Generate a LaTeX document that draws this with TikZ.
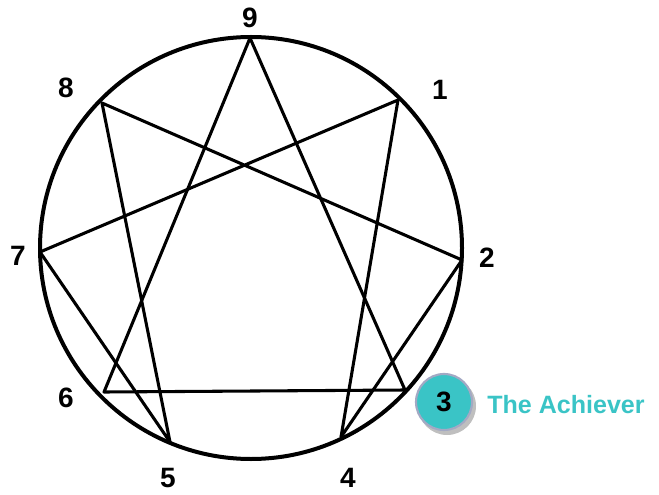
\documentclass[tikz,border=0pt]{standalone}
\usepackage{fontspec}
\setmainfont{Liberation Sans}
\usepackage{xcolor}
\usetikzlibrary{positioning}
\definecolor{achteal}{HTML}{3AC4C6}
\definecolor{ringgrey}{HTML}{A3A9C4}

\begin{document}
\begin{tikzpicture}[x=0.75pt,y=-0.75pt,
  num/.style={font=\fontsize{21}{21}\selectfont\bfseries,text=black,inner sep=0pt},
  ln/.style={line width=2.3pt,line cap=round,line join=round}
]
\useasboundingbox (0,0) rectangle (659,495);
% outer ring
\draw[line width=3pt] (251,248) circle[radius=211];
% points on the ring
\coordinate (p9) at (250,38);
\coordinate (p1) at (398,100);
\coordinate (p2) at (462,260);
\coordinate (p3) at (405,390);
\coordinate (p4) at (341,437);
\coordinate (p5) at (170,442);
\coordinate (p6) at (104,392);
\coordinate (p7) at (40,252);
\coordinate (p8) at (102,103);
% triangle
\draw[ln] (p9) -- (p3) -- (p6) -- cycle;
% hexad
\draw[ln] (p1) -- (p4) -- (p2) -- (p8) -- (p5) -- (p7) -- cycle;
% labels
\node[num] (n9) at (250,18) {9};
\node[num] (n1) at (440,90) {1};
\node[num] (n2) at (487,258) {2};
\node[num] (n4) at (348,478) {4};
\node[num] (n5) at (168,478) {5};
\node[num] (n6) at (66,398) {6};
\node[num] (n7) at (18,256) {7};
\node[num] (n8) at (66,88) {8};
% highlighted type
\fill[black!25] (447,406) circle[radius=29];
\filldraw[fill=achteal,draw=ringgrey,line width=1.6pt] (444,402) circle[radius=28];
\node[num] (n3) at (444,402) {3};
\node[font=\fontsize{18.8}{19}\selectfont\bfseries,text=achteal,anchor=west,inner sep=0pt]
  (lbl3) at (487,405) {The Achiever};
\end{tikzpicture}
\end{document}
